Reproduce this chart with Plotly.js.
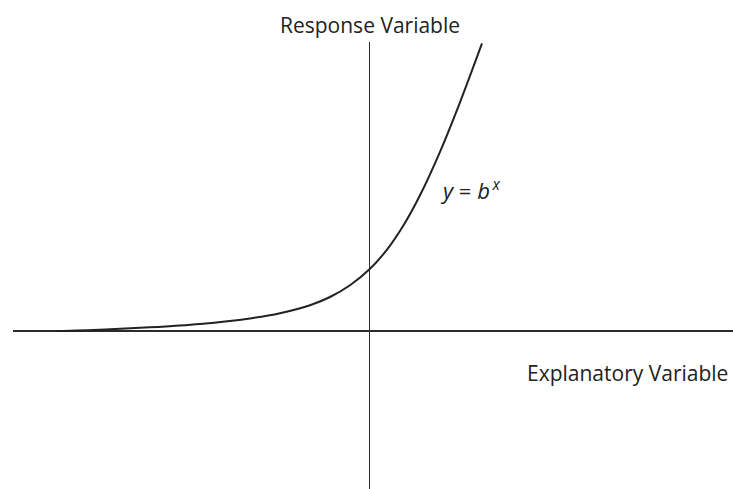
<!DOCTYPE html>
<html>
<head>
<meta charset="utf-8">
<script src="https://cdn.plot.ly/plotly-3.0.1.min.js"></script>
<style>
  html, body { margin: 0; padding: 0; background: #fff; }
  #chart { width: 733px; height: 489px; }
</style>
</head>
<body>
<div id="chart"></div>
<script>
var curve_x = [-6.29, -5.39, -4.39, -3.39, -2.39, -1.79, -1.19, -0.79, -0.39, 0, 0.35, 0.69, 1.01, 1.41, 1.81, 2.25];
var curve_y = [0, 0.027, 0.074, 0.142, 0.252, 0.354, 0.514, 0.68, 0.916, 1.234, 1.628, 2.13, 2.714, 3.584, 4.574, 5.752];

var x_label = 'Explanatory Variable';
var y_label = 'Response Variable';
var curve_label = '<i>y</i>\u00a0=\u00a0<i>b</i><sup>\u2009<i>x</i></sup>';

var text_font = {family: 'Open Sans, Noto Sans, sans-serif', size: 21, color: '#222'};

var curve_trace = {
    x: curve_x,
    y: curve_y,
    type: 'scatter',
    mode: 'lines',
    line: {color: '#222', width: 2, shape: 'spline', smoothing: 0.8},
    cliponaxis: false,
    hoverinfo: 'skip'
};

var layout = {
    width: 733,
    height: 489,
    margin: {l: 13, r: 0, t: 42, b: 0},
    paper_bgcolor: '#fff',
    plot_bgcolor: '#fff',
    showlegend: false,
    xaxis: {
        range: [-7.13, 7.27],
        showgrid: false, showticklabels: false, ticks: '', showline: false,
        zeroline: true, zerolinecolor: '#2b2b2b', zerolinewidth: 1.5
    },
    yaxis: {
        range: [-3.16, 5.78],
        showgrid: false, showticklabels: false, ticks: '', showline: false,
        zeroline: true, zerolinecolor: '#2b2b2b', zerolinewidth: 1.5
    },
    annotations: [
        {text: y_label, xref: 'x', yref: 'paper', x: 0, y: 1, yshift: 17,
         xanchor: 'center', yanchor: 'middle', showarrow: false, font: text_font},
        {text: x_label, xref: 'paper', yref: 'y', x: 1, y: 0, yshift: -42, xshift: -3,
         xanchor: 'right', yanchor: 'middle', showarrow: false, font: text_font},
        {text: curve_label, xref: 'x', yref: 'y', x: 1.36, y: 2.84,
         xanchor: 'left', yanchor: 'middle', showarrow: false,
         font: {family: 'Open Sans, Noto Sans, sans-serif', size: 22, color: '#222'}}
    ]
};

Plotly.newPlot('chart', [curve_trace], layout, {staticPlot: true, displayModeBar: false});
</script>
</body>
</html>
